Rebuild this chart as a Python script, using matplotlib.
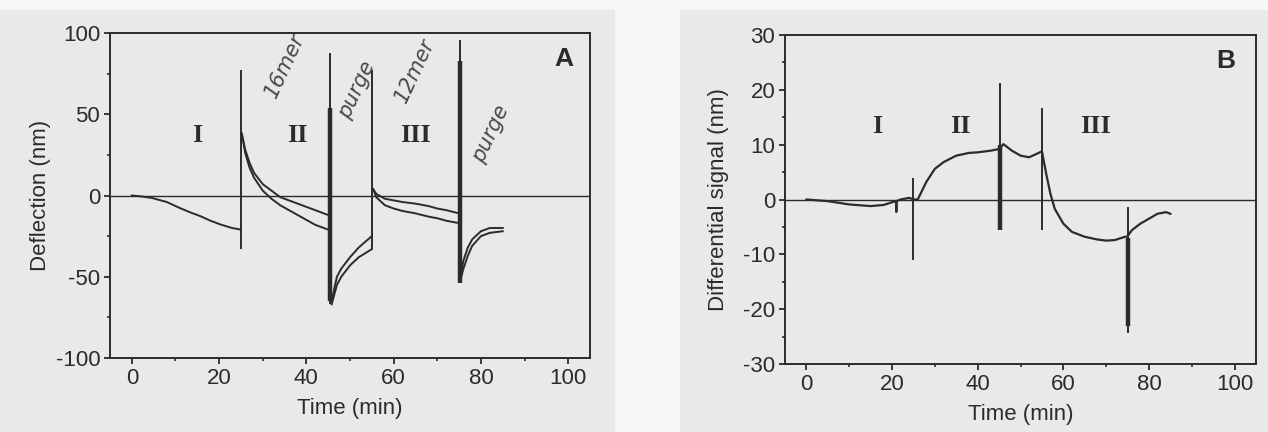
import matplotlib.pyplot as plt
from matplotlib.patches import Rectangle
from matplotlib.ticker import MultipleLocator

# ---- panel A: deflection traces ----
a_seg1_t = [0, 2, 4.6, 8, 11, 13.5, 15.8, 18, 20.5, 23, 25]
a_seg1_y = [0, -0.5, -1.5, -4, -7.7, -10.5, -12.8, -15.5, -18, -20, -21]

a_seg2_t = [25.2, 26, 27, 28, 30, 32, 34, 36, 38, 40, 42, 45]
a_seg2_up = [38, 28, 20, 14, 7, 3, -1, -3, -5, -7, -9, -12]
a_seg2_lo = [38, 26, 17, 11, 3, -2, -6, -9, -12, -15, -18, -21]

a_seg3_t = [45.8, 46.5, 47, 48, 50, 52, 55]
a_seg3_up = [-65, -56, -50, -45, -38, -32, -25]
a_seg3_lo = [-67, -60, -55, -50, -43, -38, -33]

a_seg4_t = [55.3, 56, 58, 60, 62, 65, 68, 70, 72, 75]
a_seg4_up = [4, 1, -2, -3, -4, -5, -6.5, -8, -9, -11]
a_seg4_lo = [4, -1, -6, -8, -9.5, -11, -13, -14, -15.5, -17]

a_seg5_t = [75.5, 76, 77, 78, 80, 82, 85]
a_seg5_up = [-47, -40, -32, -27, -22, -20, -20]
a_seg5_lo = [-50, -45, -37, -31, -25, -23, -22]

# injection spikes: time, thin extent, thick extent
a_spike_t = [25, 45.5, 55, 75.3]
a_spike_lo = [-33, -67, -33, -54]
a_spike_hi = [77, 88, 77, 96]
a_thick_t = [45.5, 75.3]
a_thick_lo = [-65, -54]
a_thick_hi = [54, 83]

a_phase_labels = ["I", "II", "III"]
a_phase_x = [15, 38, 65]
a_phase_y = [37, 37, 37]

a_notes = ["16mer", "purge", "12mer", "purge"]
a_notes_x = [35, 51.5, 65, 82.3]
a_notes_y = [80, 65, 77, 38]

# ---- panel B: differential signal ----
b_t = [0, 5, 10, 15, 18, 20, 21, 21, 21, 22, 24, 25, 26, 28, 30, 32, 35, 38, 40,
       43, 45, 46, 48, 50, 52, 54, 55, 56, 57, 58, 60, 62, 65, 68, 70, 72, 74,
       75, 76, 78, 80, 82, 84, 85]
b_y = [0, -0.3, -0.9, -1.2, -1, -0.5, -0.3, -2.2, -0.3, 0, 0.3, 0, 0, 3.2, 5.6,
       6.8, 8.0, 8.5, 8.6, 8.9, 9.2, 10.1, 8.9, 8.0, 7.7, 8.4, 8.8, 4.7, 1.0,
       -1.7, -4.4, -5.9, -6.8, -7.3, -7.5, -7.4, -6.9, -6.7, -5.6, -4.4, -3.5,
       -2.6, -2.3, -2.6]

b_spike_t = [25, 45.3, 55, 75]
b_spike_lo = [-11, -5.6, -5.5, -24.3]
b_spike_hi = [4, 21.3, 16.7, -1.4]
b_thick_t = [45.3, 75]
b_thick_lo = [-5.6, -23]
b_thick_hi = [10, -7]

b_phase_labels = ["I", "II", "III"]
b_phase_x = [16.6, 36, 67.4]
b_phase_y = [13.4, 13.4, 13.4]

plt.rcParams['font.family'] = ['Liberation Sans', 'DejaVu Sans']
plt.rcParams['axes.unicode_minus'] = False
ink = '#2b2b2b'
paper = '#e9e9e9'

fig = plt.figure(figsize=(12.68, 4.32), dpi=100, facecolor='#f7f7f7')
W, H = 1268.0, 432.0
# scanned page areas behind each panel
fig.patches.append(Rectangle((0, 0), 614 / W, 422 / H, transform=fig.transFigure,
                             color=paper, zorder=-10))
fig.patches.append(Rectangle((680 / W, 0), 1 - 680 / W, 422 / H, transform=fig.transFigure,
                             color=paper, zorder=-10))

axA = fig.add_axes([110 / W, 1 - 358 / H, 480 / W, 325 / H])
axB = fig.add_axes([785 / W, 1 - 364 / H, 471 / W, 329 / H])


def style(ax, ymaj, ymin):
    ax.set_facecolor(paper)
    ax.set_xlim(-5, 105)
    ax.xaxis.set_major_locator(MultipleLocator(20))
    ax.xaxis.set_minor_locator(MultipleLocator(10))
    ax.yaxis.set_major_locator(MultipleLocator(ymaj))
    ax.yaxis.set_minor_locator(MultipleLocator(ymin))
    ax.tick_params(which='major', direction='out', length=4, width=1.3,
                   labelsize=16, colors=ink, pad=3)
    ax.tick_params(which='minor', direction='out', length=2.5, width=1.2, colors=ink)
    for sp in ax.spines.values():
        sp.set_linewidth(1.4)
        sp.set_color(ink)
    ax.axhline(0, color=ink, lw=1.0, zorder=1)
    ax.set_xlabel('Time (min)', fontsize=16, color=ink, labelpad=7)


# panel A
style(axA, 50, 25)
axA.set_ylim(-100, 100)
axA.plot(a_seg1_t, a_seg1_y, color=ink, lw=1.4)
for t, up, lo in [(a_seg2_t, a_seg2_up, a_seg2_lo), (a_seg3_t, a_seg3_up, a_seg3_lo),
                  (a_seg4_t, a_seg4_up, a_seg4_lo), (a_seg5_t, a_seg5_up, a_seg5_lo)]:
    axA.plot(t, up, color=ink, lw=1.4)
    axA.plot(t, lo, color=ink, lw=1.4)
axA.vlines(a_spike_t, a_spike_lo, a_spike_hi, color=ink, lw=1.4)
axA.vlines(a_thick_t, a_thick_lo, a_thick_hi, color=ink, lw=3.2)
for s, x, y in zip(a_phase_labels, a_phase_x, a_phase_y):
    axA.text(x, y, s, family='Liberation Serif', fontweight='bold', fontsize=19,
             ha='center', va='center', color=ink)
for s, x, y in zip(a_notes, a_notes_x, a_notes_y):
    axA.text(x, y, s, fontsize=15, style='italic', rotation=65, ha='center',
             va='center', color='#4a4a4a', family='DejaVu Sans')
axA.text(99, 84, 'A', fontsize=19, fontweight='bold', ha='center', va='center', color=ink)
axA.set_ylabel('Deflection (nm)', fontsize=16, color=ink, labelpad=3)

# panel B
style(axB, 10, 5)
axB.set_ylim(-30, 30)
axB.plot(b_t, b_y, color=ink, lw=1.6)
axB.vlines(b_spike_t, b_spike_lo, b_spike_hi, color=ink, lw=1.4)
axB.vlines(b_thick_t, b_thick_lo, b_thick_hi, color=ink, lw=3.2)
for s, x, y in zip(b_phase_labels, b_phase_x, b_phase_y):
    axB.text(x, y, s, family='Liberation Serif', fontweight='bold', fontsize=19,
             ha='center', va='center', color=ink)
axB.text(98, 25.2, 'B', fontsize=19, fontweight='bold', ha='center', va='center', color=ink)
axB.set_ylabel('Differential signal (nm)', fontsize=16, color=ink, labelpad=10)

fig.savefig('out.png', dpi=100, facecolor=fig.get_facecolor())
